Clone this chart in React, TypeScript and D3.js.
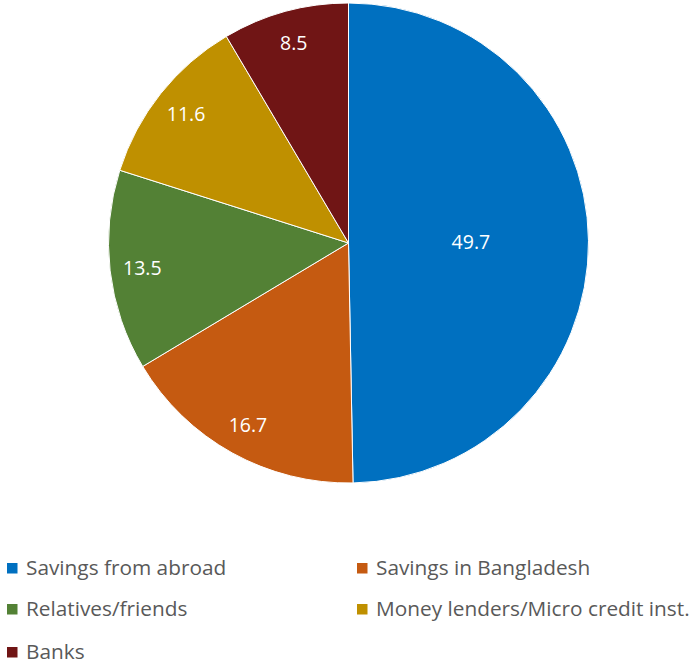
import React from "react";
import * as d3 from "d3";

const categories = [
  "Savings from abroad",
  "Savings in Bangladesh",
  "Relatives/friends",
  "Money lenders/Micro credit inst.",
  "Banks",
];
const values = [49.7, 16.7, 13.5, 11.6, 8.5];
const colors = ["#0070C0", "#C55A11", "#538135", "#BF9000", "#701515"];

const W = 697;
const H = 664;
const cx = 348.5;
const cy = 243;
const R = 240;
const FONT = "'Open Sans', Lato, sans-serif";

export default function App() {
  const pie = d3.pie<number>().sort(null).value((d) => d);
  const arcs = pie(values);
  const arcGen = d3.arc<d3.PieArcDatum<number>>().innerRadius(0).outerRadius(R);

  const legendPos = [
    { x: 7, y: 575 },
    { x: 357, y: 575 },
    { x: 7, y: 616 },
    { x: 357, y: 616 },
    { x: 7, y: 659 },
  ];

  return (
    <svg
      width={W}
      height={H}
      style={{ position: "absolute", left: 0, top: 0 }}
      fontFamily={FONT}
    >
      <rect width={W} height={H} fill="#ffffff" />
      <g transform={`translate(${cx},${cy})`}>
        {arcs.map((a, i) => (
          <path
            key={i}
            d={arcGen(a) || ""}
            fill={colors[i]}
            stroke="#ffffff"
            strokeWidth={1}
          />
        ))}
        {arcs.map((a, i) => {
          const mid = (a.startAngle + a.endAngle) / 2;
          const frac = a.data > 40 ? 0.51 : 0.865;
          const x = Math.sin(mid) * R * frac;
          const y = -Math.cos(mid) * R * frac;
          return (
            <text
              key={"l" + i}
              x={x}
              y={y}
              textAnchor="middle"
              dominantBaseline="central"
              fill="#ffffff"
              fontSize={19.5}
            >
              {a.data.toFixed(1)}
            </text>
          );
        })}
      </g>
      {categories.map((c, i) => (
        <g key={"lg" + i} transform={`translate(${legendPos[i].x},${legendPos[i].y})`}>
          <rect x={0} y={-12} width={10.5} height={10.5} fill={colors[i]} />
          <text x={19} y={0} fill="#595959" fontSize={20.8}>
            {c}
          </text>
        </g>
      ))}
    </svg>
  );
}
